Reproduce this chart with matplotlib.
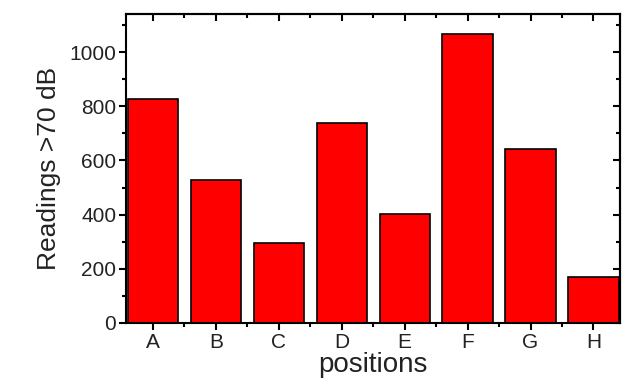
import matplotlib
matplotlib.use("Agg")
import matplotlib.pyplot as plt
from matplotlib.ticker import MultipleLocator, FixedLocator

categories = ["A", "B", "C", "D", "E", "F", "G", "H"]
readings = [828, 527, 297, 738, 403, 1065, 641, 171]

plt.rcParams['font.family'] = ['Liberation Sans', 'DejaVu Sans']

fig = plt.figure(figsize=(6.23, 3.79), dpi=100)
ax = fig.add_axes([0.2022, 0.1478, 0.7928, 0.815])

x = list(range(len(categories)))
ax.bar(x, readings, width=0.8, color="#ff0000", edgecolor="black", linewidth=1.2)

ax.set_xlim(-0.43, 7.42)
ax.set_ylim(0, 1140)
ax.set_xticks(x)
ax.set_xticklabels(categories)
ax.xaxis.set_minor_locator(FixedLocator([i + 0.5 for i in range(len(categories) - 1)]))
ax.yaxis.set_major_locator(MultipleLocator(200))
ax.yaxis.set_minor_locator(MultipleLocator(100))

for s in ax.spines.values():
    s.set_linewidth(1.5)

ax.tick_params(which='both', direction='out', width=1.5, colors='black',
               labelcolor='#222222', labelsize=15, top=False, right=False)
ax.tick_params(which='major', length=5, pad=2)
ax.tick_params(which='minor', length=3)

# mirrored ticks on top and right pointing inward
axt = ax.secondary_xaxis('top')
axt.set_xticks(x)
axt.xaxis.set_minor_locator(FixedLocator([i + 0.5 for i in range(len(categories) - 1)]))
axt.tick_params(which='both', direction='in', width=1.5, labeltop=False)
axt.tick_params(which='major', length=5)
axt.tick_params(which='minor', length=3)
axt.spines['top'].set_linewidth(1.5)

axr = ax.secondary_yaxis('right')
axr.yaxis.set_major_locator(MultipleLocator(200))
axr.yaxis.set_minor_locator(MultipleLocator(100))
axr.tick_params(which='both', direction='in', width=1.5, labelright=False)
axr.tick_params(which='major', length=5)
axr.tick_params(which='minor', length=3)
axr.spines['right'].set_linewidth(1.5)

ax.set_ylabel("Readings >70 dB", fontsize=19, color='#222222', labelpad=6)
ax.set_xlabel("positions", fontsize=20, color='#222222', labelpad=0)

fig.savefig("out.png", dpi=100)
